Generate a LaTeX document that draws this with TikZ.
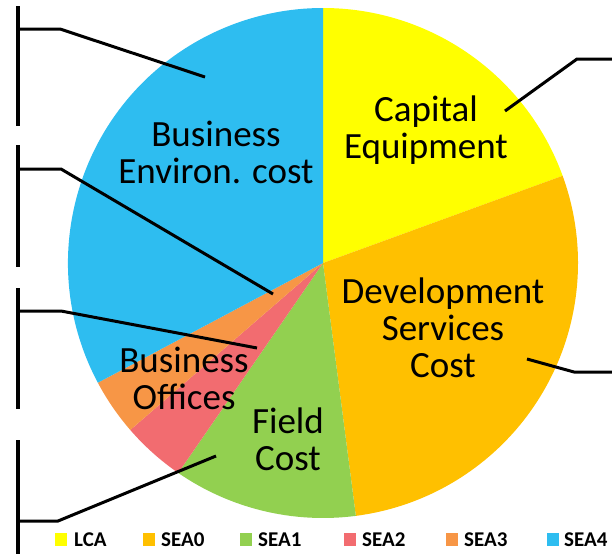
\documentclass[tikz,border=0pt]{standalone}
\usepackage{fontspec}
\setmainfont{Carlito}
\definecolor{cLCA}{RGB}{255,255,0}
\definecolor{cSEAa}{RGB}{255,192,0}
\definecolor{cSEAb}{RGB}{146,208,80}
\definecolor{cSEAc}{RGB}{242,108,112}
\definecolor{cSEAd}{RGB}{247,150,70}
\definecolor{cSEAe}{RGB}{46,189,240}
\begin{document}
\begin{tikzpicture}[x=1pt,y=-1pt,
  lbl/.style={align=center, font=\fontsize{37}{37}\selectfont, inner sep=0pt, anchor=base},
  leader/.style={line width=3pt},
  sidebar/.style={line width=4pt},
  legtxt/.style={font=\bfseries\fontsize{21}{22}\selectfont, anchor=base west, inner sep=0pt},
  legsq/.style={minimum width=12pt, minimum height=13pt, inner sep=0pt, anchor=north west, draw=none}
]
\useasboundingbox (0,0) rectangle (612,554);
\coordinate (O) at (323,263);
% pie
\begin{scope}[shift={(O)}, yscale=-1]
  \fill[cLCA]  (0,0) -- (90:255)    arc[start angle=90,    end angle=20,    radius=255] -- cycle;
  \fill[cSEAa] (0,0) -- (20:255)    arc[start angle=20,    end angle=-82.6, radius=255] -- cycle;
  \fill[cSEAb] (0,0) -- (-82.6:255) arc[start angle=-82.6, end angle=-124.6, radius=255] -- cycle;
  \fill[cSEAc] (0,0) -- (-124.6:255) arc[start angle=-124.6, end angle=-139.1, radius=255] -- cycle;
  \fill[cSEAd] (0,0) -- (-139.1:255) arc[start angle=-139.1, end angle=-152, radius=255] -- cycle;
  \fill[cSEAe] (0,0) -- (-152:255)  arc[start angle=-152,  end angle=-270,  radius=255] -- cycle;
\end{scope}
% labels (anchor base = baseline of last line)
\node[lbl] (cap)   at (426,158) {Capital\\Equipment};
\node[lbl] (benv)  at (216,183) {Business\\Environ. cost};
\node[lbl] (dev)   at (443,377) {Development\\Services\\Cost};
\node[lbl] (boff)  at (184,409) {Business\\Offices};
\node[lbl] (field) at (288,470) {Field\\Cost};
% side bars
\coordinate (s1a) at (18,6);   \coordinate (s1b) at (18,126);
\coordinate (s2a) at (18,145); \coordinate (s2b) at (18,267);
\coordinate (s3a) at (18,288); \coordinate (s3b) at (18,409);
\coordinate (s4a) at (18,440); \coordinate (s4b) at (18,554);
\draw[sidebar] (s1a) -- (s1b);
\draw[sidebar] (s2a) -- (s2b);
\draw[sidebar] (s3a) -- (s3b);
\draw[sidebar] (s4a) -- (s4b);
% left leaders
\coordinate (l1a) at (18,29);  \coordinate (l1b) at (60,29);  \coordinate (l1c) at (205,77);
\coordinate (l2a) at (18,169); \coordinate (l2b) at (61,169); \coordinate (l2c) at (273,294);
\coordinate (l3a) at (18,311); \coordinate (l3b) at (61,311); \coordinate (l3c) at (257,348);
\coordinate (l4a) at (18,521); \coordinate (l4b) at (58,521); \coordinate (l4c) at (216,456);
\draw[leader] (l1a) -- (l1b) -- (l1c);
\draw[leader] (l2a) -- (l2b) -- (l2c);
\draw[leader] (l3a) -- (l3b) -- (l3c);
\draw[leader] (l4a) -- (l4b) -- (l4c);
% right leaders
\coordinate (r1a) at (612,59);  \coordinate (r1b) at (577,59);  \coordinate (r1c) at (505,111);
\coordinate (r2a) at (612,372); \coordinate (r2b) at (574,372); \coordinate (r2c) at (527,359);
\draw[leader] (r1a) -- (r1b) -- (r1c);
\draw[leader] (r2a) -- (r2b) -- (r2c);
% legend
\node[legsq, fill=cLCA]  (q0) at (55,533) {};  \node[legtxt] (t0) at (74,546)  {LCA};
\node[legsq, fill=cSEAa] (q1) at (143,533) {}; \node[legtxt] (t1) at (161,546) {SEA0};
\node[legsq, fill=cSEAb] (q2) at (240,533) {}; \node[legtxt] (t2) at (258,546) {SEA1};
\node[legsq, fill=cSEAc] (q3) at (344,533) {}; \node[legtxt] (t3) at (362,546) {SEA2};
\node[legsq, fill=cSEAd] (q4) at (446,533) {}; \node[legtxt] (t4) at (464,546) {SEA3};
\node[legsq, fill=cSEAe] (q5) at (547,533) {}; \node[legtxt] (t5) at (564,546) {SEA4};
\end{tikzpicture}
\end{document}
